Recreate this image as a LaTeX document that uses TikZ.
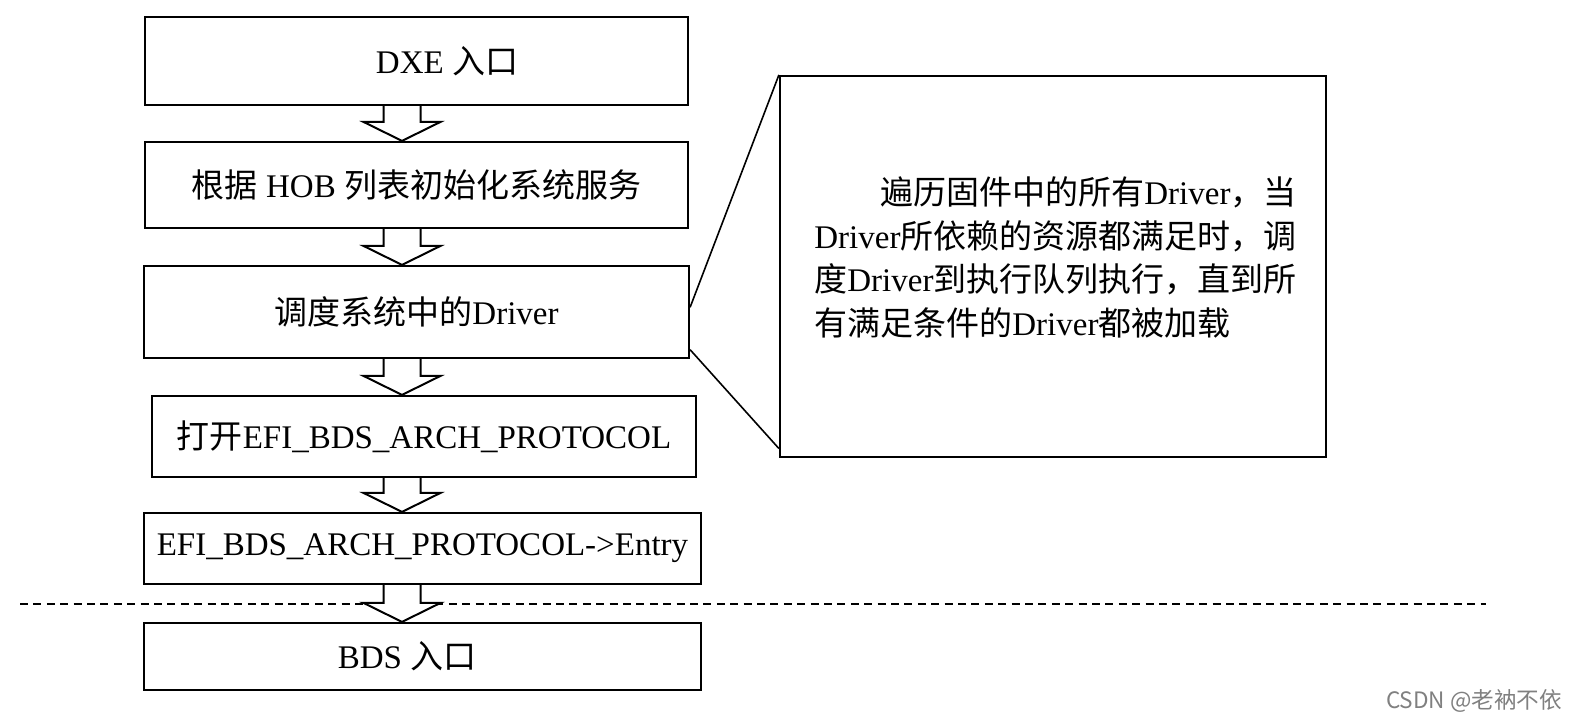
\documentclass[tikz,border=0pt]{standalone}
\usepackage{fontspec}
\setmainfont{Liberation Serif}
\newfontfamily\cjk{Noto Sans CJK SC}
\usetikzlibrary{calc}
\tikzset{
  box/.style={draw, line width=1.1pt, rectangle, inner sep=0pt, font=\fontsize{16.5}{20}\selectfont},
  blk/.style={draw, fill=white, line width=1pt, line join=miter},
  callline/.style={line width=0.8pt},
  sepline/.style={dash pattern=on 4pt off 2.7pt, line width=0.8pt},
}
\newcommand{\blockarrow}[2]{%
  \filldraw[blk] let \p1=(#1.south -| ax), \p2=(#2.north -| ax) in
  (\x1-9.25pt,\y1) -- (\x1-9.25pt,\y2+9.5pt) -- (\x1-19.25pt,\y2+9.5pt) -- (\x2,\y2)
  -- (\x1+19.25pt,\y2+9.5pt) -- (\x1+9.25pt,\y2+9.5pt) -- (\x1+9.25pt,\y1);}
\begin{document}
\begin{tikzpicture}[x=0.5pt,y=-0.5pt]
\useasboundingbox (0,0) rectangle (1585,722);
\coordinate (ax) at (402,0);
\node[box, minimum width=271.5pt, minimum height=44pt] (b1) at (416.5,61) {\hspace*{30.5pt}DXE {\cjk 入口}};
\node[box, minimum width=271.5pt, minimum height=43pt] (b2) at (416.5,185) {{\cjk 根据} HOB {\cjk 列表初始化系统服务}};
\node[box, minimum width=272.5pt, minimum height=46pt] (b3) at (416.5,312) {{\cjk 调度系统中的}Driver};
\node[box, minimum width=272pt, minimum height=40.5pt] (b4) at (424,436.5) {{\cjk 打开}EFI\_BDS\_ARCH\_PROTOCOL};
\node[box, minimum width=278.5pt, minimum height=35.5pt] (b5) at (422.5,548.5) {EFI\_BDS\_ARCH\_PROTOCOL->Entry};
\node[box, minimum width=278.5pt, minimum height=33.5pt] (b6) at (422.5,656.5) {BDS {\cjk 入口}\hspace*{15.5pt}};
\node[draw, line width=1.1pt, minimum width=273pt, minimum height=190.5pt, inner sep=0pt] (cal) at (1053,266.5) {};
\node[anchor=west, align=left, inner sep=0pt, font=\fontsize{16.5}{21.85}\selectfont] (ct) at (814,257.5)
  {\hspace*{2em}{\cjk 遍历固件中的所有}Driver{\cjk ，当}\\
   Driver{\cjk 所依赖的资源都满足时，调}\\
   {\cjk 度}Driver{\cjk 到执行队列执行，直到所}\\
   {\cjk 有满足条件的}Driver{\cjk 都被加载}};
\draw[callline] ($(b3.north east)!0.45!(b3.south east)$) -- (cal.north west);
\draw[callline] ($(b3.north east)!0.9!(b3.south east)$) -- ($(cal.north west)!0.975!(cal.south west)$);
\coordinate (dl) at (20,604);
\coordinate (dr) at (1486,604);
\draw[sepline] (dl) -- (dr);
\blockarrow{b1}{b2}
\blockarrow{b2}{b3}
\blockarrow{b3}{b4}
\blockarrow{b4}{b5}
\blockarrow{b5}{b6}
\node[text=black!50, font=\cjk\fontsize{11.3}{13}\selectfont, inner sep=0pt] (wm) at (1474,701) {CSDN @老衲不依};
\end{tikzpicture}
\end{document}
